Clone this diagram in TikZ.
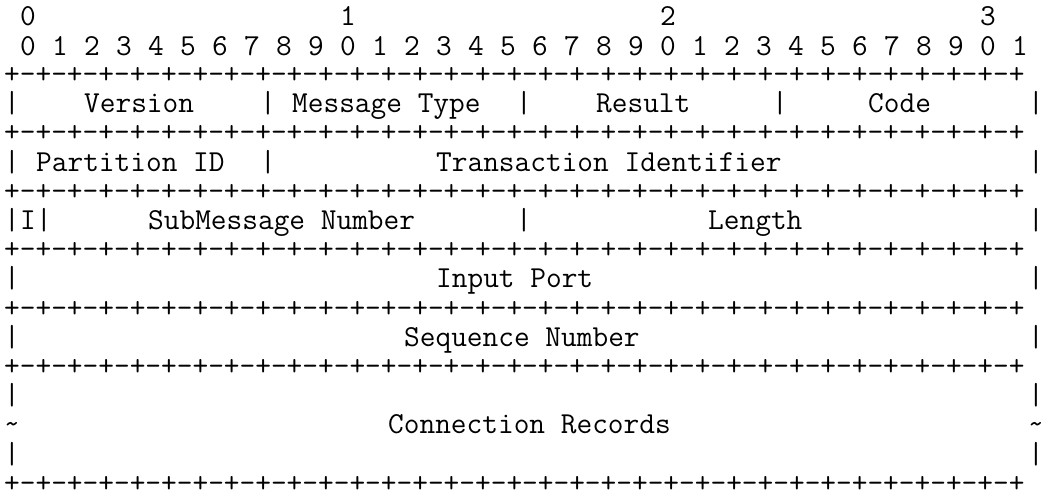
\documentclass[tikz,border=0pt]{standalone}

% 65 个字符的分隔线
\newcommand\pktrule{+-+-+-+-+-+-+-+-+-+-+-+-+-+-+-+-+-+-+-+-+-+-+-+-+-+-+-+-+-+-+-+-+}

\tikzset{
  ascii/.style={anchor=base west, inner sep=0pt, font=\ttfamily\fontsize{30.48}{29.2}\selectfont},
}

\begin{document}
\begin{tikzpicture}[x=1pt, y=-1pt]

  % ── 画布：1043 x 495，每字符宽 16、行距 29.2 ──
  \path[use as bounding box] (0,0) rectangle (1043,495);

  % ── 第 1 行：位序号十位 ──
  \foreach \c/\d in {1/0, 21/1, 41/2, 61/3}
    \node[ascii] (tens\d) at (4+16*\c, 26) {\d};

  % ── 第 2 行：位序号个位 0..31 ──
  \foreach \b in {0,...,31} {
    \pgfmathtruncatemacro\u{mod(\b,10)}
    \node[ascii] (bit\b) at (20+32*\b, 55.2) {\u};
  }

  % ── 分隔线 +-+-…+ ──
  \foreach \r in {3,5,7,9,11,13,17}
    \node[ascii] (rule\r) at (4, 25+29.2*\r-29.2) {\pktrule};

  % ── 竖线 |（行/列）──
  \foreach \r/\c in {4/0, 4/16, 4/32, 4/48, 4/64,
                     6/0, 6/16, 6/64,
                     8/0, 8/2, 8/32, 8/64,
                     10/0, 10/64, 12/0, 12/64,
                     14/0, 14/64, 16/0, 16/64}
    \node[ascii] (bar\r-\c) at (4+16*\c, 25+29.2*\r-29.2) {|};

  % ── 续行符 ~ ──
  \foreach \c in {0,64}
    \node[ascii] (cont\c) at (4+16*\c, 25+29.2*14) {\textasciitilde};

  % ── 字段名（行/列/名/文字）──
  \foreach \r/\c/\n/\txt in {%
      4/5/version/Version,
      4/18/msgtype/Message Type,
      4/37/result/Result,
      4/54/code/Code,
      6/2/partition/Partition ID,
      6/27/transid/Transaction Identifier,
      8/1/ibit/I,
      8/9/submsg/SubMessage Number,
      8/44/length/Length,
      10/27/inport/Input Port,
      12/25/seqnum/Sequence Number,
      15/24/connrec/Connection Records}
    \node[ascii] (\n) at (4+16*\c, 25+29.2*\r-29.2) {\txt};

\end{tikzpicture}
\end{document}
